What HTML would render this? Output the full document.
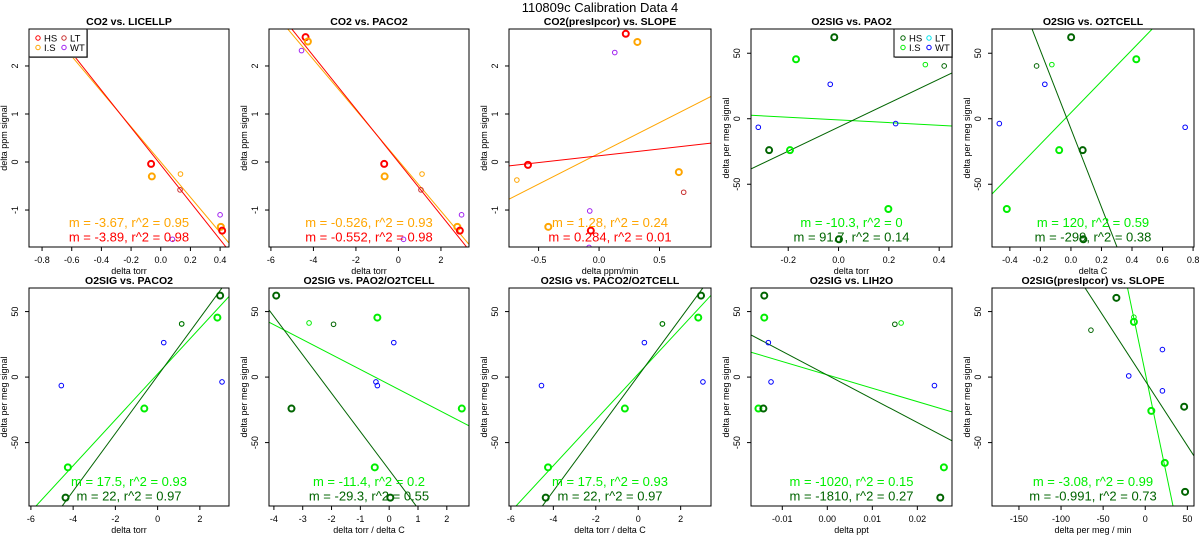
<!DOCTYPE html>
<html><head><meta charset="utf-8">
<style>
html,body{margin:0;padding:0;background:#fff;width:1200px;height:550px;overflow:hidden;}
svg{display:block;font-family:"Liberation Sans",sans-serif;}
</style></head>
<body>
<svg id="chart" width="1200" height="550" viewBox="0 0 1200 550">
<text x="600" y="12" text-anchor="middle" font-size="13">110809c   Calibration Data 4</text>
</svg>
<script>
// colors: R=red, O=orange, L=lt red, P=purple, D=darkgreen, G=green, B=blue
const p1x=[-0.065,-0.06,0.133,0.13,0.40,0.405,0.414,0.079];
const p1y=[-0.04,-0.30,-0.25,-0.58,-1.10,-1.35,-1.43,-1.61];
const p1c=['R','O','O','L','P','O','R','P'];
const p1s=[1,1,0,0,0,1,1,0];
const p1m=[-3.67,-3.89]; const p1b=[0.0,-0.06]; const p1lc=['O','R'];
const p1txt=['m = -3.67, r^2 = 0.95','m = -3.89, r^2 = 0.98'];
const p2x=[-4.37,-4.26,-4.56,-0.67,-0.65,1.11,1.06,2.97,2.77,2.89,0.24];
const p2y=[2.60,2.51,2.32,-0.04,-0.30,-0.25,-0.58,-1.10,-1.35,-1.43,-1.61];
const p2c=['R','O','P','R','O','O','L','P','O','R','P'];
const p2s=[1,1,0,1,1,0,0,0,1,1,0];
const p2m=[-0.526,-0.552]; const p2b=[0.03,0.0]; const p2lc=['O','R'];
const p2txt=['m = -0.526, r^2 = 0.93','m = -0.552, r^2 = 0.98'];
const p3x=[0.221,0.317,0.13,-0.588,-0.68,0.66,0.70,-0.077,-0.42,-0.068,-0.083];
const p3y=[2.67,2.50,2.28,-0.06,-0.375,-0.21,-0.63,-1.02,-1.35,-1.43,-1.78];
const p3c=['R','O','P','R','O','O','L','P','O','R','P'];
const p3s=[1,1,0,1,0,1,0,0,1,1,0];
const p3m=[1.28,0.284]; const p3b=[0.18,0.13]; const p3lc=['O','R'];
const p3txt=['m = 1.28, r^2 = 0.24','m = 0.284, r^2 = 0.01'];
const p4x=[-0.017,-0.169,-0.033,0.345,0.42,-0.319,0.227,-0.276,-0.193,0.198,0.0016];
const p4y=[62.2,45.4,26.3,41.3,40.3,-6.5,-3.7,-24,-24,-68.9,-92];
const p4c=['D','G','B','G','D','B','B','D','G','G','D'];
const p4s=[1,1,0,0,0,0,0,1,1,1,1];
const p4m=[-10.3,91.7]; const p4b=[-0.9,-6.4]; const p4lc=['G','D'];
const p4txt=['m = -10.3, r^2 = 0','m = 91.7, r^2 = 0.14'];
const p5x=[0.0014,-0.225,-0.125,0.428,-0.171,-0.469,0.748,-0.077,0.077,-0.42,0.081];
const p5y=[62.2,40.3,41.3,45.4,26.3,-3.7,-6.5,-24,-24,-68.9,-92];
const p5c=['D','D','G','G','B','B','B','G','D','G','D'];
const p5s=[1,0,0,1,0,0,0,1,1,1,1];
const p5m=[120,-299]; const p5b=[4.6,-7.7]; const p5lc=['G','D'];
const p5txt=['m = 120, r^2 = 0.59','m = -299, r^2 = 0.38'];
const p6x=[-4.56,0.29,1.14,1.14,2.83,2.96,3.05,-0.63,-4.25,-4.36];
const p6y=[-6.5,26.3,40.6,40.6,45.4,62.2,-3.7,-24,-68.9,-92];
const p6c=['B','B','G','D','G','D','B','G','G','D'];
const p6s=[0,0,0,0,1,1,0,1,1,1];
const p6m=[17.5,22]; const p6b=[2.4,1.0]; const p6lc=['G','D'];
const p6txt=['m = 17.5, r^2 = 0.93','m = 22, r^2 = 0.97'];
const p7x=[-3.92,-2.78,-1.93,-0.41,0.16,-0.46,-0.41,-3.39,2.52,-0.50,0.04];
const p7y=[62.2,41.3,40.3,45.4,26.3,-3.7,-6.5,-24,-24,-68.9,-92];
const p7c=['D','G','D','G','B','B','B','D','G','G','D'];
const p7s=[1,0,0,1,0,0,0,1,1,1,1];
const p7m=[-11.4,-29.3]; const p7b=[-5.6,-70.9]; const p7lc=['G','D'];
const p7txt=['m = -11.4, r^2 = 0.2','m = -29.3, r^2 = 0.55'];
const p9x=[-0.014,-0.014,-0.0131,0.015,0.0164,-0.0125,0.0238,-0.0153,-0.0142,0.0259,0.0251];
const p9y=[62.2,45.4,26.3,40.3,41.3,-3.7,-6.5,-24,-24,-68.9,-92];
const p9c=['D','G','B','D','G','B','B','G','D','G','D'];
const p9s=[1,1,0,0,0,0,0,1,1,1,1];
const p9m=[-1020,-1810]; const p9b=[1.7,1.5]; const p9lc=['G','D'];
const p9txt=['m = -1020, r^2 = 0.15','m = -1810, r^2 = 0.27'];
const p10x=[-34.3,-13.5,-13.5,-64.5,20.4,-19.6,20.4,7.2,46.2,23.2,47.3];
const p10y=[60.5,45.7,42.1,35.8,21,0.9,-10.5,-25.8,-22.6,-65.5,-87.6];
const p10c=['D','G','G','D','B','B','B','G','D','G','D'];
const p10s=[1,0,1,0,0,0,0,1,1,1,1];
const p10m=[-3.08,-0.991]; const p10b=[3.2,-2.8]; const p10lc=['G','D'];
const p10txt=['m = -3.08, r^2 = 0.99','m = -0.991, r^2 = 0.73'];

const xt1=[-0.8,-0.6,-0.4,-0.2,0.0,0.2,0.4]; const xl1=['-0.8','-0.6','-0.4','-0.2','0.0','0.2','0.4'];
const xt2=[-6,-4,-2,0,2]; const xl2=['-6','-4','-2','0','2'];
const xt3=[-0.5,0.0,0.5]; const xl3=['-0.5','0.0','0.5'];
const xt4=[-0.2,0.0,0.2,0.4]; const xl4=['-0.2','0.0','0.2','0.4'];
const xt5=[-0.4,-0.2,0.0,0.2,0.4,0.6,0.8]; const xl5=['-0.4','-0.2','0.0','0.2','0.4','0.6','0.8'];
const xt7=[-4,-3,-2,-1,0,1,2]; const xl7=['-4','-3','-2','-1','0','1','2'];
const xt9=[-0.01,0.00,0.01,0.02]; const xl9=['-0.01','0.00','0.01','0.02'];
const xt10=[-150,-100,-50,0,50]; const xl10=['-150','-100','-50','0','50'];
const ytA=[-1,0,1,2];
const ytB=[-50,0,50];

const COL={R:'#FF0000',O:'#FFA500',L:'#C83030',P:'#A020F0',D:'#006400',G:'#00EE00',B:'#0000FF',C:'#00E5EE'};
const NS='http://www.w3.org/2000/svg';
const svg=document.getElementById('chart');
function mk(tag,attrs,parent){const e=document.createElementNS(NS,tag);for(const k in attrs)e.setAttribute(k,attrs[k]);(parent||svg).appendChild(e);return e;}

const panels=[
 {l:29,t:29,w:200,xl:[-0.888,0.46],yl:[-1.77,2.77],xt:xt1,xs:xl1,yt:ytA,title:'CO2 vs. LICELLP',xlab:'delta torr',ylab:'delta ppm signal',x:p1x,y:p1y,c:p1c,s:p1s,m:p1m,b:p1b,lc:p1lc,txt:p1txt,leg:'L'},
 {l:269,t:29,w:200,xl:[-6.09,3.32],yl:[-1.77,2.77],xt:xt2,xs:xl2,yt:ytA,title:'CO2 vs. PACO2',xlab:'delta torr',ylab:'delta ppm signal',x:p2x,y:p2y,c:p2c,s:p2s,m:p2m,b:p2b,lc:p2lc,txt:p2txt},
 {l:509,t:29,w:202,xl:[-0.745,0.926],yl:[-1.77,2.77],xt:xt3,xs:xl3,yt:ytA,title:'CO2(presIpcor) vs. SLOPE',xlab:'delta ppm/min',ylab:'delta ppm signal',x:p3x,y:p3y,c:p3c,s:p3s,m:p3m,b:p3b,lc:p3lc,txt:p3txt},
 {l:751,t:29,w:201,xl:[-0.348,0.451],yl:[-97.9,68.5],xt:xt4,xs:xl4,yt:ytB,title:'O2SIG vs. PAO2',xlab:'delta torr',ylab:'delta per meg signal',x:p4x,y:p4y,c:p4c,s:p4s,m:p4m,b:p4b,lc:p4lc,txt:p4txt,leg:'R'},
 {l:992,t:29,w:202,xl:[-0.517,0.806],yl:[-97.9,68.5],xt:xt5,xs:xl5,yt:ytB,title:'O2SIG vs. O2TCELL',xlab:'delta C',ylab:'delta per meg signal',x:p5x,y:p5y,c:p5c,s:p5s,m:p5m,b:p5b,lc:p5lc,txt:p5txt},
 {l:29,t:288,w:200,xl:[-6.09,3.38],yl:[-98.4,68],xt:xt2,xs:xl2,yt:ytB,title:'O2SIG vs. PACO2',xlab:'delta torr',ylab:'delta per meg signal',x:p6x,y:p6y,c:p6c,s:p6s,m:p6m,b:p6b,lc:p6lc,txt:p6txt},
 {l:269,t:288,w:200,xl:[-4.17,2.77],yl:[-98.4,68],xt:xt7,xs:xl7,yt:ytB,title:'O2SIG vs. PAO2/O2TCELL',xlab:'delta torr / delta C',ylab:'delta per meg signal',x:p7x,y:p7y,c:p7c,s:p7s,m:p7m,b:p7b,lc:p7lc,txt:p7txt},
 {l:509,t:288,w:202,xl:[-6.09,3.43],yl:[-98.4,68],xt:xt2,xs:xl2,yt:ytB,title:'O2SIG vs. PACO2/O2TCELL',xlab:'delta torr / delta C',ylab:'delta per meg signal',x:p6x,y:p6y,c:p6c,s:p6s,m:p6m,b:p6b,lc:p6lc,txt:p6txt},
 {l:751,t:288,w:201,xl:[-0.01695,0.0277],yl:[-98.4,68],xt:xt9,xs:xl9,yt:ytB,title:'O2SIG vs. LIH2O',xlab:'delta ppt',ylab:'delta per meg signal',x:p9x,y:p9y,c:p9c,s:p9s,m:p9m,b:p9b,lc:p9lc,txt:p9txt},
 {l:992,t:288,w:202,xl:[-182,57.9],yl:[-98.4,68],xt:xt10,xs:xl10,yt:ytB,title:'O2SIG(presIpcor) vs. SLOPE',xlab:'delta per meg / min',ylab:'delta per meg signal',x:p10x,y:p10y,c:p10c,s:p10s,m:p10m,b:p10b,lc:p10lc,txt:p10txt}
];
const H=218;
panels.forEach((p,i)=>{
  const g=mk('g',{});
  
  
  const sx=v=>p.l+(v-p.xl[0])/(p.xl[1]-p.xl[0])*p.w;
  const sy=v=>p.t+H-(v-p.yl[0])/(p.yl[1]-p.yl[0])*H;
  const cid='clip'+i;
  const cp=mk('clipPath',{id:cid},g);mk('rect',{x:p.l,y:p.t,width:p.w,height:H},cp);
  const tt=mk('text',{x:p.l+p.w/2,y:p.t-4,'text-anchor':'middle','font-size':10.5,'font-weight':'bold'},g);tt.textContent=p.title;
  
  
  p.xt.forEach((v,k)=>{const X=sx(v);mk('line',{x1:X,x2:X,y1:p.t+H,y2:p.t+H+4,stroke:'#000','stroke-width':1},g);
    const t=mk('text',{x:X,y:p.t+H+16,'text-anchor':'middle','font-size':9},g);t.textContent=p.xs[k];
    
    });
  mk('line',{x1:sx(p.xt[0]),x2:sx(p.xt[p.xt.length-1]),y1:p.t+H,y2:p.t+H,stroke:'#000'},g);
  p.yt.forEach(v=>{const Y=sy(v);mk('line',{x1:p.l,x2:p.l-4,y1:Y,y2:Y,stroke:'#000'},g);
    const t=mk('text',{x:0,y:0,'text-anchor':'middle','font-size':9,transform:`translate(${p.l-11},${Y}) rotate(-90)`},g);t.textContent=String(v);
    
    });
  const xa=mk('text',{x:p.l+p.w/2,y:p.t+H+27,'text-anchor':'middle','font-size':9},g);xa.textContent=p.xlab;
  
  
  const ya=mk('text',{x:0,y:0,'text-anchor':'middle','font-size':9,transform:`translate(${p.l-22},${p.t+H/2}) rotate(-90)`},g);ya.textContent=p.ylab;
  
  
  const cg=mk('g',{'clip-path':`url(#${cid})`},g);
  p.m.forEach((m,k)=>{const x0=p.xl[0],x1=p.xl[1];
    const ln=mk('line',{x1:sx(x0),y1:sy(p.b[k]+m*x0),x2:sx(x1),y2:sy(p.b[k]+m*x1),stroke:COL[p.lc[k]],'stroke-width':1},cg);
    
    });
  p.x.forEach((v,k)=>{const big=p.s[k]===1;
    const c=mk('circle',{cx:sx(v),cy:sy(p.y[k]),r:big?3:2.3,fill:'none',stroke:COL[p.c[k]],'stroke-width':big?2:1},cg);
    
    });
  p.txt.forEach((s,k)=>{const t=mk('text',{x:p.l+p.w/2,y:p.t+H-20+k*14.5,'text-anchor':'middle','font-size':13,fill:COL[p.lc[k]]},g);t.textContent=s;
    
    });
  if(p.leg){const row1=p.leg==='L';
    const lx=row1?p.l:p.l+p.w-58, ly=p.t;
    const lg=mk('g',{},g);
    
    
    mk('rect',{x:lx+1,y:ly+1,width:58,height:28,fill:'#999'},lg);
    mk('rect',{x:lx,y:ly,width:58,height:28,fill:'#fff',stroke:'#000'},lg);
    const items=row1?[['HS','R'],['LT','L'],['I.S','O'],['WT','P']]:[['HS','D'],['LT','C'],['I.S','G'],['WT','B']];
    items.forEach((it,k)=>{const cx=lx+9+(k%2)*26, cy=ly+9+Math.floor(k/2)*9.5;
      mk('circle',{cx:cx,cy:cy,r:2.2,fill:'none',stroke:COL[it[1]],'stroke-width':1},lg);
      const t=mk('text',{x:cx+6,y:cy+3.5,'font-size':9.5},lg);t.textContent=it[0];
      
      });
  }
  mk('rect',{x:p.l,y:p.t,width:p.w,height:H,fill:'none',stroke:'#000','stroke-width':1},g);
});
</script>
</body></html>
